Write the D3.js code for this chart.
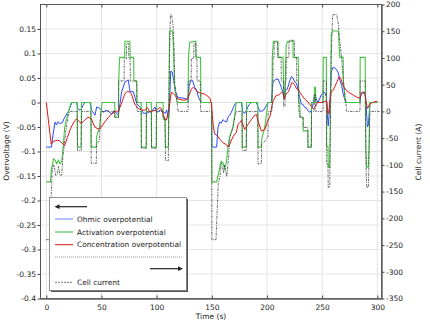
<!DOCTYPE html>
<html><head><meta charset="utf-8">
<script src="https://cdn.jsdelivr.net/npm/d3@7"></script>
<style>
body{margin:0;background:#fff}
svg{display:block}
text{font-family:"DejaVu Sans",sans-serif}
</style></head>
<body><svg id="c" width="430" height="324"></svg>
<script>
// ---- data (time in s) ----
const xTicks = [0,50,100,150,200,250,300];
const leftTicks = [-0.4,-0.35,-0.3,-0.25,-0.2,-0.15,-0.1,-0.05,0,0.05,0.1,0.15];
const gridLeft = [-0.35,-0.3,-0.25,-0.2,-0.15,-0.1,-0.05,0,0.05,0.1,0.15];
const rightTicks = [-350,-300,-250,-200,-150,-100,-50,0,50,100,150,200];
const seriesNames = ["Ohmic overpotential","Activation overpotential","Concentration overpotential","Cell current"];

const ohmic = [[0,-0.091],[4.7,-0.091],[6.1,-0.066],[7.9,-0.04],[9.2,-0.046],[10.6,-0.039],[12.4,-0.043],[14.5,-0.041],[16.7,-0.03],[19.9,-0.019],[22.4,-0.005],[23,0],[27.5,0],[28.5,-0.012],[30.5,-0.016],[32,-0.012],[33.5,-0.005],[35,0],[39.6,0],[41.1,-0.016],[43,-0.022],[44.1,-0.026],[45.7,-0.009],[48.7,-0.012],[51.4,-0.02],[53.5,-0.017],[55.5,-0.016],[57.5,-0.021],[59.5,-0.023],[61,-0.017],[62.5,-0.019],[65.3,-0.026],[66.8,-0.002],[68.3,0.022],[71.3,0.042],[74.3,0.046],[75.9,0.022],[78.9,0.022],[81.9,-0.002],[84.9,-0.009],[87.9,-0.022],[91.3,-0.022],[93.5,-0.019],[95.5,-0.019],[98.5,-0.009],[100.1,-0.021],[103.1,-0.015],[106,-0.019],[108,-0.022],[109.1,-0.015],[110.6,-0.034],[111.3,-0.019],[112,0.02],[112.8,0.064],[114.2,0.062],[115.5,0.045],[116.9,0.022],[119.4,0.01],[124,0.009],[128.5,0.006],[129.5,0.035],[130.9,0.044],[132.5,0.045],[134.5,0.031],[136.3,0.025],[138,0.01],[140.5,0],[149.8,0],[150.1,-0.091],[154.4,-0.091],[155.6,-0.051],[157.2,-0.04],[158.6,-0.042],[160.1,-0.035],[161.7,-0.038],[163.5,-0.04],[164.7,-0.03],[166.2,-0.026],[167.7,-0.02],[169.2,-0.012],[171,-0.003],[172.2,0],[176.7,0],[178.3,-0.02],[179.8,-0.022],[181.6,-0.015],[183.5,-0.005],[185.8,0],[190.3,0],[191.9,-0.009],[193.4,-0.018],[196.4,-0.017],[199.4,-0.007],[200.9,0],[203.9,0],[205.5,0.042],[207.6,0.047],[210,0.048],[211.5,0.04],[213,0.031],[214.5,0.021],[215.4,0.01],[216.6,0.024],[218.4,0.027],[220.6,0.044],[222.1,0.053],[223.6,0.05],[225.1,0.042],[226.6,0.04],[228.1,0.027],[229.7,0.01],[231.1,-0.003],[232.7,-0.004],[234.2,-0.01],[235.7,-0.011],[237.2,-0.017],[238.8,-0.02],[240.2,-0.016],[241.7,-0.003],[243.3,0.017],[244.7,0.007],[246.3,0],[249.3,0.016],[250.8,0.02],[252.3,0.021],[253.8,0.012],[254.7,-0.024],[255.5,-0.048],[256.9,-0.01],[258.3,0.062],[259.9,0.072],[262.3,0.069],[264.4,0.062],[266.2,0.045],[267.7,0.035],[269.2,0.016],[270.7,0.005],[272.3,0],[284.3,0],[285.2,0.018],[288.9,0.02],[289.8,0],[291,-0.05],[291.9,-0.046],[293.4,0],[300,0]];

const activation = [[0,-0.162],[3.8,-0.162],[4.5,-0.139],[6.5,-0.115],[8,-0.118],[9.5,-0.125],[11,-0.118],[12.5,-0.125],[14,-0.12],[15,-0.098],[16.7,-0.05],[19.7,-0.02],[22.7,0],[28,0],[28.3,-0.091],[31.6,-0.091],[31.9,0],[40.4,0],[40.7,-0.091],[45.3,-0.091],[45.6,-0.07],[48.4,-0.05],[50.5,0],[62,0],[62.2,-0.03],[65.4,-0.03],[65.6,0.044],[66.5,0.092],[71,0.092],[71.3,0.125],[75.8,0.125],[76,0.092],[79.2,0.092],[79.4,0.044],[81.9,0.044],[82.2,0],[86,0],[86.2,-0.091],[90.6,-0.091],[90.8,0],[95.2,0],[95.4,-0.091],[99.7,-0.091],[99.9,0],[105.8,0],[106,-0.034],[107.6,-0.034],[108,-0.091],[110.6,-0.091],[111.8,0.146],[114.5,0.146],[115.2,0.112],[116.2,0.037],[117.8,0.01],[118.8,0],[128.5,0],[128.8,0.092],[130,0.123],[135.5,0.125],[135.8,0.092],[139.8,0.092],[140.2,0],[149.8,0],[150.1,-0.162],[154.4,-0.162],[157.4,-0.131],[158.5,-0.12],[160.4,-0.124],[161.5,-0.135],[163,-0.125],[164.7,-0.091],[166,-0.071],[169.2,-0.05],[170.8,-0.025],[172.2,0],[177.4,0],[177.6,-0.091],[181.3,-0.091],[181.5,0],[191.7,0],[191.9,-0.091],[194.9,-0.091],[195.2,-0.075],[198,-0.05],[200.9,0],[204.6,0],[204.8,0.092],[205.8,0.125],[210,0.125],[210.2,0.092],[214.5,0.092],[215.4,0.012],[216.3,0.012],[217.3,0.113],[218.5,0.125],[223.6,0.125],[223.8,0.092],[228.3,0.092],[228.8,0],[229.7,0],[229.9,-0.03],[232.7,-0.03],[232.9,-0.058],[237,-0.058],[237.2,-0.091],[240.2,-0.091],[240.4,0],[242.8,0],[243,0.031],[244,0.031],[244.2,0],[250.8,0],[251,0.092],[253.8,0.092],[254.1,-0.09],[255.3,-0.09],[255.5,-0.132],[256.9,-0.132],[258.3,0.139],[259.5,0.146],[264.7,0.146],[265.3,0.12],[266,0.092],[269,0.092],[269.3,0.044],[270.5,0.01],[271,0],[284.3,0],[284.5,0.092],[289,0.092],[289.6,-0.09],[290.4,-0.132],[291.9,-0.132],[292.5,-0.09],[293.2,0],[300,0]];

const concentration = [[0,0],[4.5,-0.085],[6.1,-0.08],[8,-0.078],[10.6,-0.077],[13,-0.08],[15.1,-0.085],[16.7,-0.088],[19,-0.072],[21.2,-0.058],[22.7,-0.05],[25,-0.04],[27.4,-0.033],[28.7,-0.036],[31.7,-0.043],[34.8,-0.036],[37.8,-0.03],[40.8,-0.033],[43.9,-0.05],[46.9,-0.054],[48.7,-0.054],[52.9,-0.04],[56,-0.031],[58.9,-0.024],[63.4,-0.017],[65,-0.02],[68,-0.003],[71.1,0.017],[73.4,0.023],[75.6,0.021],[77,0.018],[80.1,-0.003],[83.1,-0.012],[86.1,-0.015],[89.2,-0.016],[91.5,-0.01],[93.7,-0.019],[96.7,-0.017],[99.7,-0.016],[102.8,-0.01],[104.2,-0.012],[107.3,-0.034],[108.8,-0.036],[110.3,-0.023],[111.8,-0.003],[113.3,0.021],[114.8,0.019],[116.4,0.015],[119.4,0.007],[123.9,0.005],[126.9,0.005],[129,0.012],[131.4,0.027],[133,0.031],[134.5,0.028],[137.5,0.021],[140.5,0.019],[143.6,0.017],[148.1,0.01],[149.6,-0.002],[151.1,-0.044],[152.6,-0.064],[155,-0.068],[157.4,-0.075],[160.1,-0.082],[163.1,-0.086],[164.7,-0.091],[166.2,-0.085],[169.2,-0.07],[172.2,-0.061],[173.8,-0.045],[175.3,-0.041],[176.7,-0.037],[178.3,-0.045],[179.8,-0.055],[182.8,-0.045],[185.8,-0.035],[188.9,-0.026],[190.5,-0.025],[191.9,-0.038],[194.9,-0.058],[197.9,-0.056],[200.3,-0.04],[202.8,-0.028],[204.3,-0.009],[205.7,0.004],[208.5,0.015],[210.5,0.015],[213.2,0.021],[214.8,0.018],[215.9,0.007],[217.2,0.017],[219.5,0.022],[220.9,0.03],[222.3,0.04],[223.8,0.04],[225.3,0.035],[226.8,0.028],[228.5,0.026],[230,0.02],[232,0.014],[234.2,0.007],[237.2,0.001],[240.2,-0.008],[242,-0.013],[243.5,-0.01],[245,-0.002],[246.3,0],[249.3,0],[252.3,0.002],[254.2,0.003],[255.3,-0.024],[256,-0.02],[256.9,0.001],[258.3,0.022],[260.1,0.025],[263.2,0.041],[265.5,0.053],[266.8,0.049],[269.2,0.033],[272.3,0.024],[275.3,0.019],[278.3,0.015],[281.3,0.011],[284.3,0.009],[285.9,0.02],[287.3,0.022],[288.9,0.016],[290.4,-0.006],[291.3,-0.012],[292.8,-0.004],[295,-0.001],[297.9,0.002],[300,0.002]];

const cellCurrent = [[0,-240],[3.8,-240],[4.5,-155],[5.5,-105],[7,-100],[8.5,-120],[10,-118],[11,-103],[12.5,-120],[14,-119],[15,-85],[16.7,-55],[18.1,-30],[19.7,-10],[21.2,0],[28,0],[28.3,-73],[31.6,-73],[31.9,0],[40.4,0],[40.7,-97],[45.3,-97],[45.6,-61],[48.2,-55],[49.3,0],[62,0],[62.2,-11],[65.4,-11],[65.6,57],[70.5,57],[70.7,99],[72.6,99],[72.8,127],[74.6,127],[74.8,99],[76,99],[76.2,57],[82,57],[82.2,0],[86,0],[86.2,-69],[90.6,-69],[90.8,0],[95.2,0],[95.4,-69],[99.7,-69],[99.9,0],[105.8,0],[106,-11],[107.6,-11],[108,-92],[110.6,-92],[111.6,100],[112.5,181],[113.5,181],[114.8,163],[115.8,120],[116.4,51],[117.8,32],[119.4,0],[128.5,0],[128.7,57],[131.3,57],[131.5,99],[133.6,99],[133.8,127],[135.5,127],[135.7,99],[136.5,99],[136.7,57],[139.6,57],[139.8,0],[149.8,0],[150.1,-240],[153.8,-240],[155.9,-134],[157.4,-122],[158.5,-97],[159.6,-100],[160.6,-115],[161.7,-100],[163.5,-122],[165,-91],[166.4,-48],[169.2,-30],[170.8,-11],[172.2,0],[177.4,0],[177.6,-73],[181.3,-73],[181.5,0],[191.7,0],[191.9,-98],[194.9,-98],[195.2,-61],[198.5,-55],[200.9,-48],[201.1,0],[204.6,0],[204.8,57],[205.4,57],[205.6,101],[206.4,101],[206.6,130],[209.5,130],[209.7,101],[212.8,101],[213,57],[214.8,57],[215.1,9],[216.3,9],[216.6,57],[217.3,57],[217.5,101],[219.8,101],[220,133],[224.8,133],[225,101],[226.8,101],[227,57],[228.6,57],[228.8,0],[229.7,0],[229.9,-11],[232.7,-11],[232.9,-30],[237,-30],[237.2,-67],[240.2,-67],[240.4,0],[242.8,0],[243,32],[244,32],[244.2,0],[250.8,0],[251,57],[253.8,57],[254.1,-98],[255.3,-98],[255.5,-142],[256.9,-142],[258.2,100],[259.5,181],[263.2,181],[264.7,163],[266.2,127],[267.7,101],[269.2,57],[270.7,32],[272.3,0],[284.3,0],[284.5,57],[289,57],[289.6,-92],[290.4,-142],[291.9,-142],[292.5,-92],[293.2,0],[303,0]];

// ---- drawing ----
const svg = d3.select("#c");
const L = 40.5, R = 381.5, T = 4.5, B = 298.5;
const x = d3.scaleLinear().domain([0,300]).range([46.3,377.3]);
const yL = d3.scaleLinear().domain([-0.4,0.2]).range([B,T]);
const yR = d3.scaleLinear().domain([-350,200]).range([B,T]);
const FS = "7.5px";

svg.append("rect").attr("width",430).attr("height",324).attr("fill","#fff");

// grid
const grid = svg.append("g").attr("stroke","#e4e4e4").attr("stroke-width",1);
xTicks.forEach(t => grid.append("line").attr("x1",x(t)).attr("x2",x(t)).attr("y1",T).attr("y2",B));
gridLeft.forEach(v => grid.append("line").attr("x1",L).attr("x2",R).attr("y1",yL(v)).attr("y2",yL(v)));

svg.append("clipPath").attr("id","clip").append("rect").attr("x",L).attr("y",T).attr("width",R-L).attr("height",B-T);
const plot = svg.append("g").attr("clip-path","url(#clip)");
const lineL = d3.line().x(d => x(d[0])).y(d => yL(d[1]));
const lineR = d3.line().x(d => x(d[0])).y(d => yR(d[1]));

plot.append("path").datum(ohmic).attr("d",lineL).attr("fill","none").attr("stroke","#2a48ff").attr("stroke-width",1);
plot.append("path").datum(activation).attr("d",lineL).attr("fill","none").attr("stroke","#44c444").attr("stroke-width",1.1);
plot.append("path").datum(concentration).attr("d",lineL).attr("fill","none").attr("stroke","#e01818").attr("stroke-width",1);
plot.append("path").datum(cellCurrent).attr("d",lineR).attr("fill","none").attr("stroke","#444").attr("stroke-width",0.8).attr("stroke-dasharray","2.5,1,1,1");

// axes
const fmtL = d => String(+d.toFixed(2));
function styleAxis(g){
  g.select(".domain").remove();
  g.selectAll(".tick line").attr("stroke","#444");
  g.selectAll("text").attr("font-size",FS).attr("fill","#222").attr("font-family","DejaVu Sans");
}
svg.append("g").attr("transform",`translate(${L},0)`)
  .call(d3.axisLeft(yL).tickValues(leftTicks).tickSize(3).tickPadding(1.5).tickFormat(fmtL)).call(styleAxis);
svg.append("g").attr("transform",`translate(${R},0)`)
  .call(d3.axisRight(yR).tickValues(rightTicks).tickSize(3).tickPadding(1.5).tickFormat(d => String(d))).call(styleAxis);
svg.append("g").attr("transform",`translate(0,${B})`)
  .call(d3.axisBottom(x).tickValues(xTicks).tickSizeInner(-3).tickSizeOuter(0).tickPadding(6.5).tickFormat(d => String(d))).call(styleAxis);
svg.append("g").attr("transform",`translate(0,${T})`)
  .call(d3.axisTop(x).tickValues(xTicks).tickSizeInner(-3).tickSizeOuter(0).tickFormat("")).call(styleAxis);

// frame
svg.append("rect").attr("x",L).attr("y",T).attr("width",R-L).attr("height",B-T).attr("fill","none").attr("stroke","#555").attr("stroke-width",1);
svg.append("line").attr("x1",L).attr("x2",R+0.5).attr("y1",B+0.5).attr("y2",B+0.5).attr("stroke","#666").attr("stroke-width",1.5);
svg.append("line").attr("x1",R+0.5).attr("x2",R+0.5).attr("y1",T).attr("y2",B+1).attr("stroke","#666").attr("stroke-width",1.5);

// titles
svg.append("text").attr("transform","translate(9,151) rotate(-90)").attr("text-anchor","middle").attr("font-size",FS).attr("fill","#222").text("Overvoltage (V)");
svg.append("text").attr("transform","translate(421,152) rotate(-90)").attr("text-anchor","middle").attr("font-size",FS).attr("fill","#222").text("Cell current (A)");
svg.append("text").attr("x",211).attr("y",319).attr("text-anchor","middle").attr("font-size",FS).attr("fill","#222").text("Time (s)");

// legend
const lg = svg.append("g");
lg.append("rect").attr("x",51).attr("y",199).attr("width",137).attr("height",93).attr("fill","#555");
lg.append("rect").attr("x",49.5).attr("y",197.5).attr("width",137).attr("height",93).attr("fill","#fff").attr("stroke","#777").attr("stroke-width",0.8);
lg.append("line").attr("x1",58).attr("x2",87).attr("y1",206.7).attr("y2",206.7).attr("stroke","#222").attr("stroke-width",1.2);
lg.append("path").attr("d","M54.5,206.7 L59.5,204.3 L59.5,209.1 Z").attr("fill","#222");
const items = [
  {name:seriesNames[0], color:"#8fa0ff", y:219, w:1.3},
  {name:seriesNames[1], color:"#44c444", y:232, w:1.1},
  {name:seriesNames[2], color:"#d01818", y:244.7, w:1}
];
items.forEach(it => {
  lg.append("line").attr("x1",55).attr("x2",73).attr("y1",it.y).attr("y2",it.y).attr("stroke",it.color).attr("stroke-width",it.w);
  lg.append("text").attr("x",77).attr("y",it.y+2.7).attr("font-size","7.4px").attr("fill","#222").text(it.name);
});
lg.append("line").attr("x1",55).attr("x2",182).attr("y1",257).attr("y2",257).attr("stroke","#999").attr("stroke-width",0.9).attr("stroke-dasharray","1.2,0.8");
lg.append("line").attr("x1",150).attr("x2",179).attr("y1",268.7).attr("y2",268.7).attr("stroke","#222").attr("stroke-width",1.2);
lg.append("path").attr("d","M183,268.7 L178,266.3 L178,271.1 Z").attr("fill","#222");
lg.append("line").attr("x1",55).attr("x2",73).attr("y1",282.3).attr("y2",282.3).attr("stroke","#555").attr("stroke-width",0.8).attr("stroke-dasharray","2,1");
lg.append("text").attr("x",77).attr("y",285).attr("font-size","7.4px").attr("fill","#222").text(seriesNames[3]);
</script>
</body></html>
